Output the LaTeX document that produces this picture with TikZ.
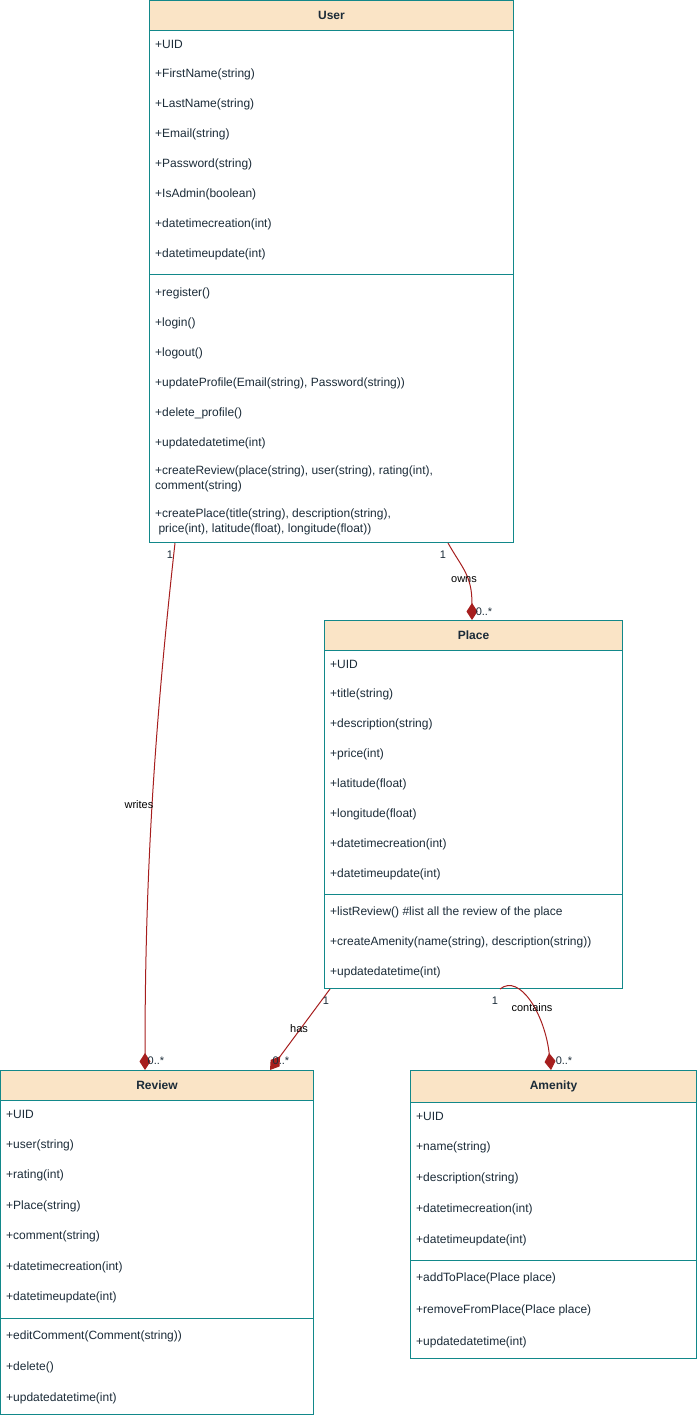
\documentclass[tikz,border=0pt]{standalone}
\usepackage{fontspec}
\setmainfont{Liberation Sans}
\usetikzlibrary{arrows.meta}

\definecolor{umlteal}{HTML}{12888A}
\definecolor{umlhead}{HTML}{FAE4C6}
\definecolor{umltext}{HTML}{1B2B38}
\definecolor{umlred}{HTML}{A61E1E}

\tikzset{
  classbox/.style={draw=umlteal, line width=1pt, anchor=north west, inner sep=0pt},
  classhead/.style={draw=umlteal, fill=umlhead, line width=1pt, anchor=north west, inner sep=0pt,
    minimum height=30pt, font=\fontsize{12}{14}\selectfont\bfseries, text=umltext},
  member/.style={anchor=west, inner sep=0pt, yshift=-1pt, font=\fontsize{12}{14.5}\selectfont, text=umltext, align=left},
  sepline/.style={draw=umlteal, line width=1pt},
  assoc/.style={draw=umlred, line width=1pt, -{Diamond[length=17pt, width=11pt, fill=umlred]}},
  mult/.style={font=\fontsize{11}{13}\selectfont, text=umltext, inner sep=0pt},
  rolelabel/.style={font=\fontsize{11}{13}\selectfont, text=black, inner sep=0pt},
}

\begin{document}
\begin{tikzpicture}[x=1pt, y=-1pt]
    \useasboundingbox (0,0) rectangle (697,1418);

    % User
    \node[classbox, minimum width=364pt, minimum height=542pt] (user) at (149,0) {};
    \node[classhead, minimum width=364pt] (userhead) at (user.north west) {User};
    \foreach \txt [count=\i] in {+UID, +FirstName(string), +LastName(string), +Email(string),
        +Password(string), +IsAdmin(boolean), +datetimecreation(int), +datetimeupdate(int)}
        \node[member] at ([xshift=6pt, yshift={-13pt-30pt*\i}]user.north west) {\txt};
    \draw[sepline] ([yshift=-274pt]user.north west) -- ([yshift=-274pt]user.north east);
    \foreach \txt [count=\i] in {+register(), +login(), +logout(),
        {+updateProfile(Email(string), Password(string))}, +delete\_profile(), +updatedatetime(int)}
        \node[member] at ([xshift=6pt, yshift={-262pt-30pt*\i}]user.north west) {\txt};
    \node[member] at ([xshift=6pt, yshift=-478pt]user.north west)
        {+createReview(place(string), user(string), rating(int),\\comment(string)};
    \node[member] at ([xshift=6pt, yshift=-521pt]user.north west)
        {+createPlace(title(string), description(string),\\\ price(int), latitude(float), longitude(float))};

    % Place
    \node[classbox, minimum width=298pt, minimum height=368pt] (place) at (324,620) {};
    \node[classhead, minimum width=298pt] (placehead) at (place.north west) {Place};
    \foreach \txt [count=\i] in {+UID, +title(string), +description(string), +price(int),
        +latitude(float), +longitude(float), +datetimecreation(int), +datetimeupdate(int)}
        \node[member] at ([xshift=6pt, yshift={-13pt-30pt*\i}]place.north west) {\txt};
    \draw[sepline] ([yshift=-274pt]place.north west) -- ([yshift=-274pt]place.north east);
    \foreach \txt [count=\i] in {+listReview() \#list all the review of the place,
        {+createAmenity(name(string), description(string))}, +updatedatetime(int)}
        \node[member] at ([xshift=6pt, yshift={-261pt-30pt*\i}]place.north west) {\txt};

    % Review
    \node[classbox, minimum width=313pt, minimum height=344pt] (review) at (0,1070) {};
    \node[classhead, minimum width=313pt] (reviewhead) at (review.north west) {Review};
    \foreach \txt [count=\i] in {+UID, +user(string), +rating(int), +Place(string),
        +comment(string), +datetimecreation(int), +datetimeupdate(int)}
        \node[member] at ([xshift=6pt, yshift={-13pt-30.5pt*\i}]review.north west) {\txt};
    \draw[sepline] ([yshift=-248pt]review.north west) -- ([yshift=-248pt]review.north east);
    \foreach \txt [count=\i] in {+editComment(Comment(string)), +delete(), +updatedatetime(int)}
        \node[member] at ([xshift=6pt, yshift={-234pt-31pt*\i}]review.north west) {\txt};

    % Amenity
    \node[classbox, minimum width=286pt, minimum height=288pt] (amenity) at (410,1070) {};
    \node[classhead, minimum width=286pt, minimum height=32pt] (amenityhead) at (amenity.north west) {Amenity};
    \foreach \txt [count=\i] in {+UID, +name(string), +description(string),
        +datetimecreation(int), +datetimeupdate(int)}
        \node[member] at ([xshift=6pt, yshift={-14pt-31pt*\i}]amenity.north west) {\txt};
    \draw[sepline] ([yshift=-190pt]amenity.north west) -- ([yshift=-190pt]amenity.north east);
    \foreach \txt [count=\i] in {+addToPlace(Place place), +removeFromPlace(Place place), +updatedatetime(int)}
        \node[member] at ([xshift=6pt, yshift={-175pt-32pt*\i}]amenity.north west) {\txt};

    % associations
    \draw[assoc] ([xshift=26pt]user.south west) .. controls +(-20,180) and +(0,-200) .. ([xshift=145pt]review.north west);
    \draw[assoc] ([xshift=299pt]user.south west) .. controls +(14,25) and +(0,-45) .. ([xshift=148pt]place.north west);
    \draw[assoc] ([xshift=6pt]place.south west) -- ([xshift=270pt]review.north west);
    \draw[assoc] ([xshift=176pt]place.south west) .. controls +(20,-16) and +(-6,-55) .. ([xshift=141pt]amenity.north west);

    % multiplicities and roles
    \node[mult] (m1) at (170,555) {1};
    \node[mult] (m2) at (156,1061) {0..*};
    \node[rolelabel] (r1) at (139,805) {writes};
    \node[mult] (m3) at (443,555) {1};
    \node[mult] (m4) at (484,612) {0..*};
    \node[rolelabel] (r2) at (464,580) {owns};
    \node[mult] (m5) at (326,1001) {1};
    \node[mult] (m6) at (281,1061) {0..*};
    \node[rolelabel] (r3) at (299,1029) {has};
    \node[mult] (m7) at (495,1001) {1};
    \node[mult] (m8) at (564,1061) {0..*};
    \node[rolelabel] (r4) at (532,1008) {contains};
\end{tikzpicture}
\end{document}
